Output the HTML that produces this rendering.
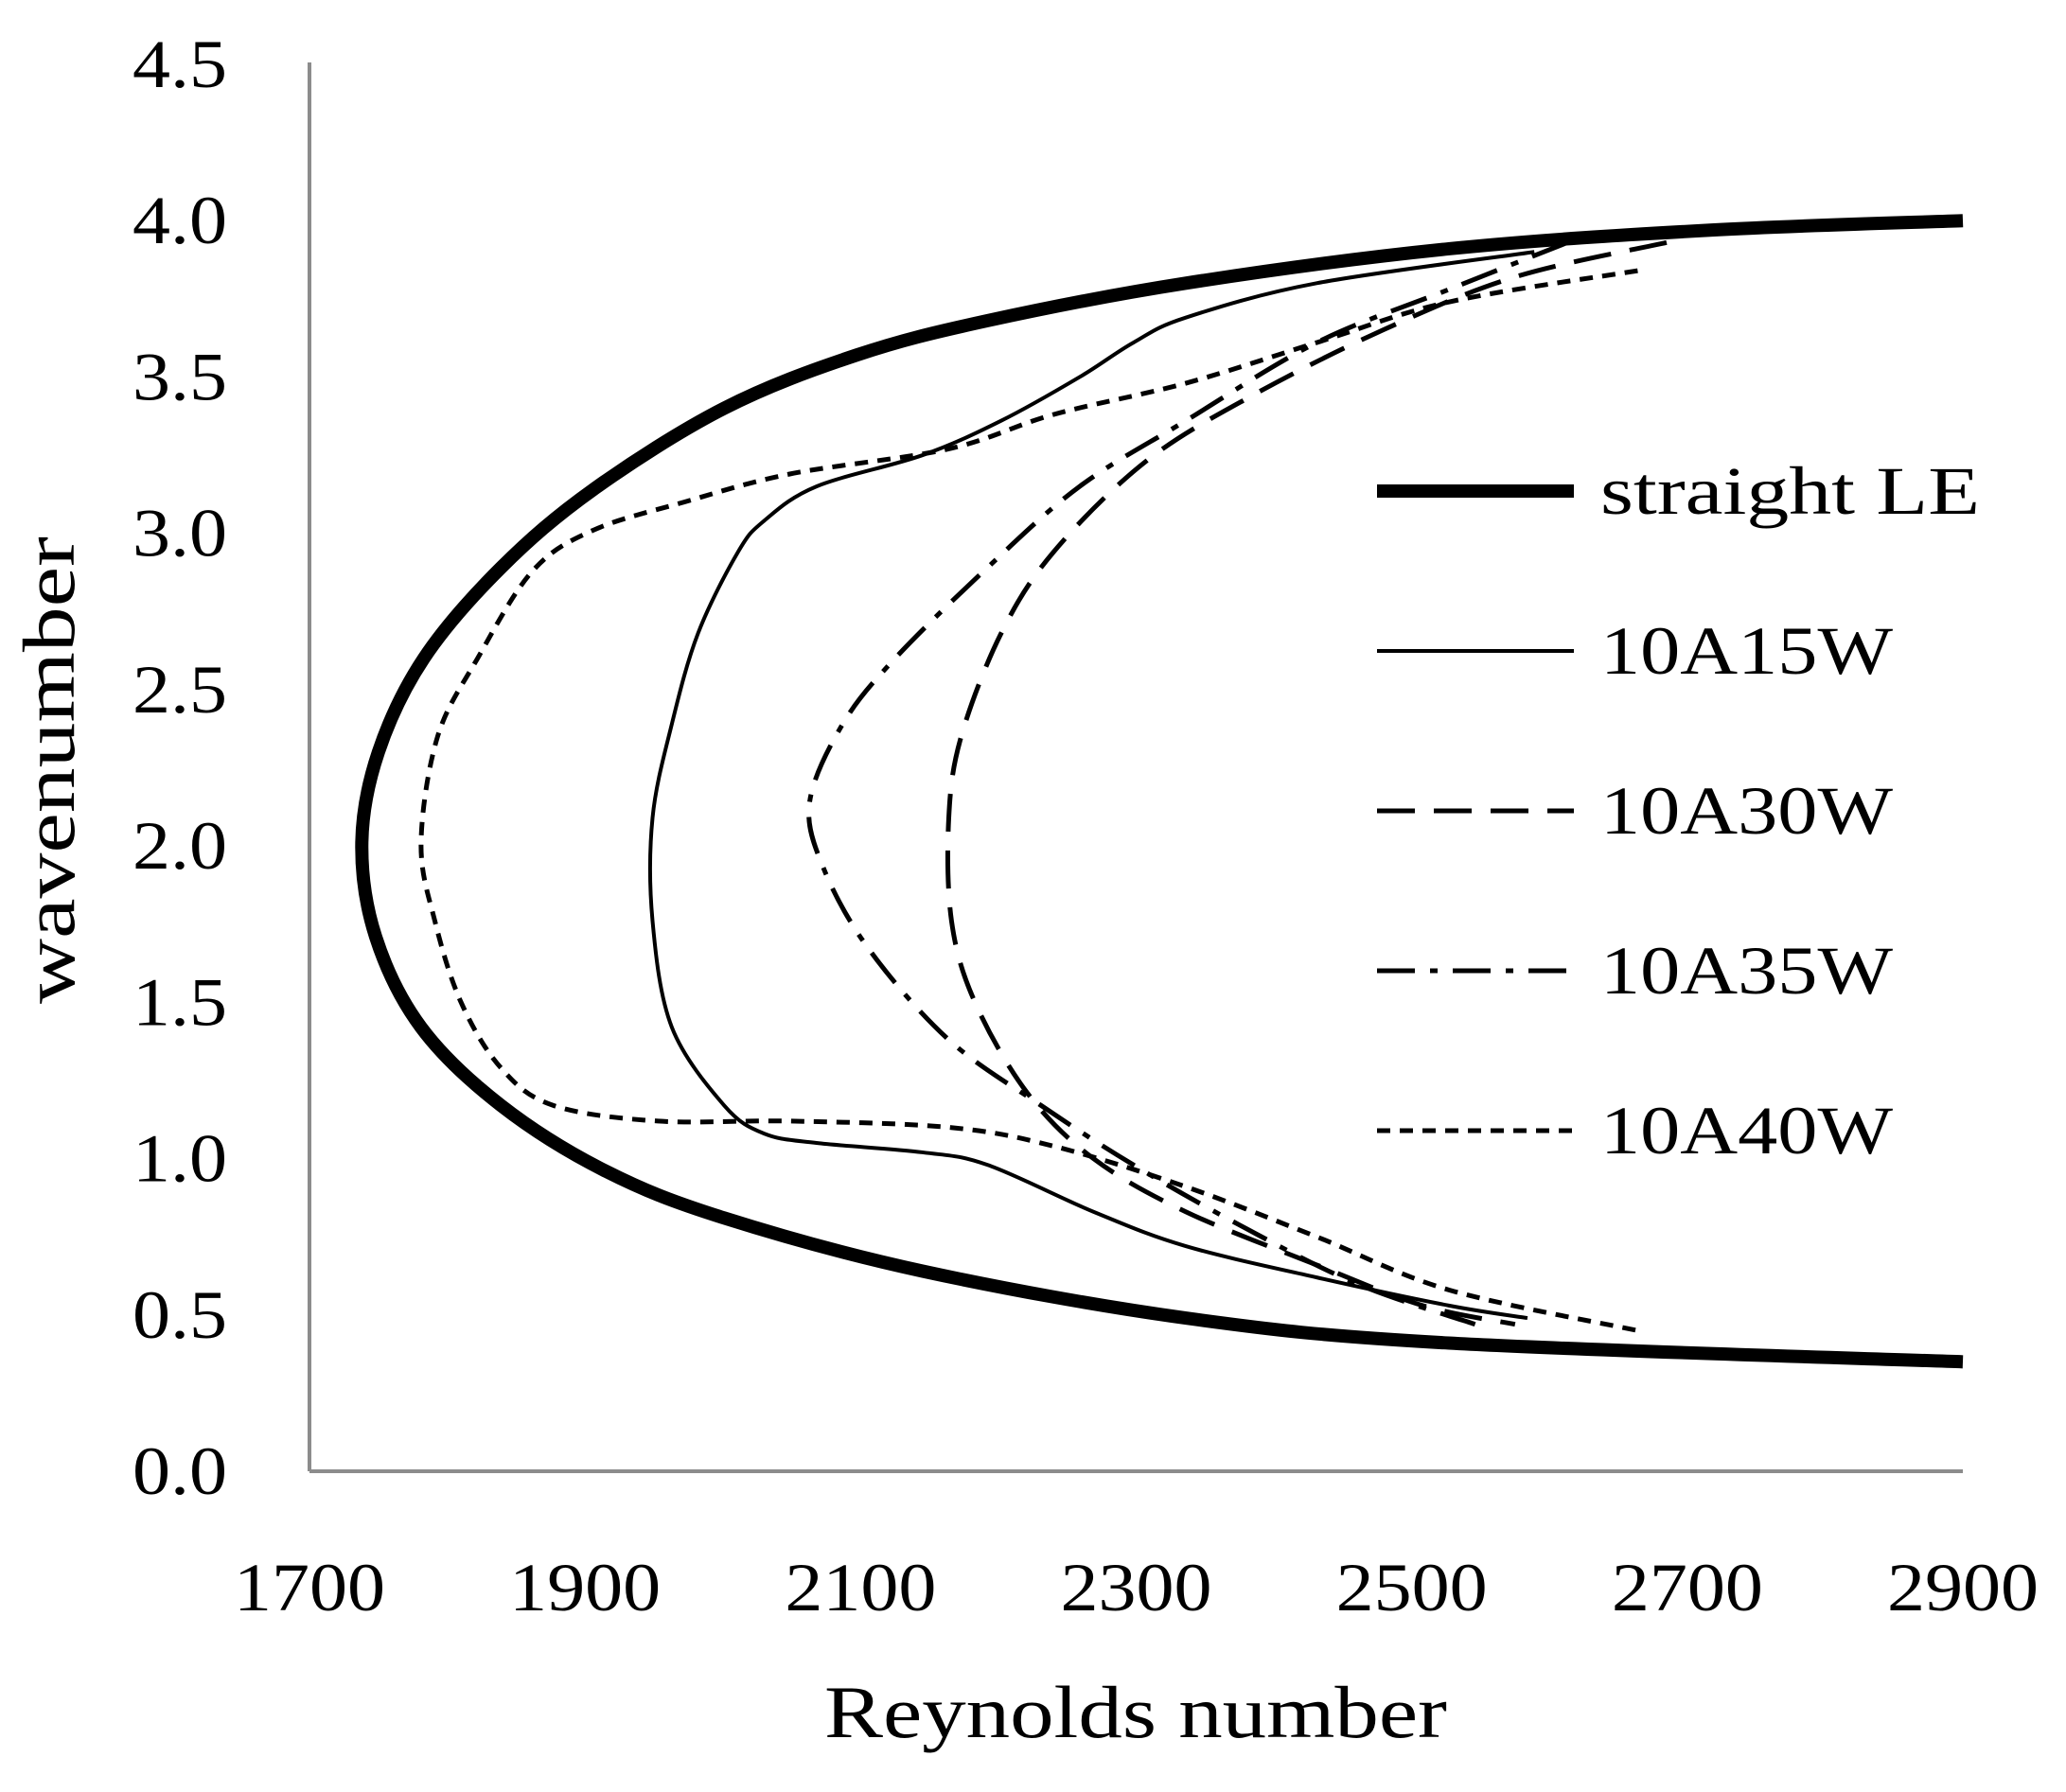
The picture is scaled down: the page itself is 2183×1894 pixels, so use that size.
<!DOCTYPE html>
<html><head><meta charset="utf-8"><style>
html,body{margin:0;padding:0;background:#fff}
svg text{font-family:"Liberation Serif",serif;fill:#000}
</style></head><body>
<svg width="2183" height="1889" viewBox="0 0 2183 1889" xmlns="http://www.w3.org/2000/svg">
<g id="axes"></g><g id="series"></g><g id="legend"></g>
<text x="1200" y="1836" font-size="78" text-anchor="middle" textLength="658" lengthAdjust="spacingAndGlyphs">Reynolds number</text>
<text transform="translate(78,814) rotate(-90)" font-size="78" text-anchor="middle" textLength="494" lengthAdjust="spacingAndGlyphs">wavenumber</text>
</svg>
<script>
const xTicks=[1700,1900,2100,2300,2500,2700,2900];
const yTicks=[0,0.5,1,1.5,2,2.5,3,3.5,4,4.5];
const seriesNames=["straight LE","10A15W","10A30W","10A35W","10A40W"];
const straightLE=[[2900,4.0],[2718,3.97],[2527,3.91],[2336,3.80],[2192,3.68],[2097,3.57],[2001,3.40],[1906,3.14],[1839,2.89],[1783,2.60],[1750,2.30],[1738,2.01],[1748,1.71],[1781,1.42],[1839,1.17],[1915,0.96],[2001,0.81],[2145,0.64],[2336,0.49],[2527,0.41],[2900,0.35]];
const s15W=[[2589,3.90],[2431,3.80],[2336,3.69],[2298,3.61],[2259,3.50],[2202,3.36],[2145,3.25],[2068,3.15],[2030,3.04],[2011,2.94],[1982,2.68],[1963,2.39],[1949,2.09],[1949,1.76],[1963,1.42],[2001,1.17],[2030,1.08],[2068,1.05],[2145,1.02],[2192,0.98],[2269,0.83],[2336,0.72],[2431,0.62],[2527,0.53],[2584,0.49]];
const s30W=[[2685,3.93],[2575,3.82],[2479,3.65],[2384,3.44],[2307,3.23],[2240,2.94],[2202,2.68],[2173,2.35],[2164,2.09],[2166,1.76],[2183,1.50],[2221,1.21],[2269,1.00],[2336,0.83],[2431,0.66],[2508,0.53],[2575,0.47]];
const s35W=[[2613,3.93],[2527,3.78],[2431,3.61],[2336,3.36],[2259,3.15],[2192,2.89],[2125,2.60],[2087,2.39],[2063,2.14],[2073,1.93],[2106,1.67],[2164,1.38],[2231,1.17],[2298,0.98],[2374,0.79],[2460,0.60],[2546,0.47]];
const s40W=[[2664,3.84],[2527,3.74],[2431,3.61],[2336,3.48],[2240,3.38],[2164,3.27],[2049,3.19],[1972,3.10],[1906,3.01],[1862,2.88],[1822,2.60],[1793,2.35],[1781,2.01],[1791,1.76],[1810,1.50],[1839,1.29],[1877,1.17],[1953,1.12],[2049,1.12],[2164,1.10],[2240,1.04],[2336,0.91],[2431,0.75],[2527,0.58],[2664,0.45]];

const NS="http://www.w3.org/2000/svg";
const X0=327,X1=2074,Y0=1555,Y1=68;
function sx(v){return X0+(v-1700)/(2900-1700)*(X1-X0);}
function sy(v){return Y0-(v/4.5)*(Y0-Y1);}
function mk(tag,attrs,parent){const e=document.createElementNS(NS,tag);for(const k in attrs)e.setAttribute(k,attrs[k]);parent.appendChild(e);return e;}
const axes=document.getElementById('axes');
let yl=mk('line',{x1:X0,y1:Y1-2,x2:X0,y2:Y0,stroke:'#8c8c8c','stroke-width':4},axes);


let xl=mk('line',{x1:X0,y1:Y0,x2:X1,y2:Y0,stroke:'#8c8c8c','stroke-width':4},axes);


xTicks.forEach(t=>{const e=mk('text',{x:sx(t),y:1702,'font-size':72,'text-anchor':'middle',textLength:160,lengthAdjust:'spacingAndGlyphs'},axes);e.textContent=t;

});
yTicks.forEach(t=>{const e=mk('text',{x:240,y:sy(t)+24,'font-size':72,'text-anchor':'end',textLength:100,lengthAdjust:'spacingAndGlyphs'},axes);e.textContent=t.toFixed(1);

});
function pathD(pts){const p=pts.map(d=>[sx(d[0]),sy(d[1])]);let s='M'+p[0][0]+','+p[0][1];
for(let i=0;i<p.length-1;i++){const a=p[i-1]||p[i],b=p[i],c=p[i+1],d=p[i+2]||c;
s+=' C'+(b[0]+(c[0]-a[0])/6)+','+(b[1]+(c[1]-a[1])/6)+' '+(c[0]-(d[0]-b[0])/6)+','+(c[1]-(d[1]-b[1])/6)+' '+c[0]+','+c[1];}return s;}
const styles=[{w:14,d:''},{w:4,d:''},{w:5,d:'40 20'},{w:5,d:'40 16 8 16'},{w:5,d:'14 10'}];
const data=[straightLE,s15W,s30W,s35W,s40W];
const widths=[401,309,309,309,309];
const sg=document.getElementById('series'),lg=document.getElementById('legend');
const ids=['series-straight-le','series-10a15w','series-10a30w','series-10a35w','series-10a40w'];
data.forEach((pts,i)=>{const p=mk('path',{d:pathD(pts),fill:'none',stroke:'#000','stroke-width':styles[i].w,'stroke-dasharray':styles[i].d},sg);


const ly=519+i*169;
const l=mk('line',{x1:1455,y1:ly,x2:1663,y2:ly,stroke:'#000','stroke-width':styles[i].w,'stroke-dasharray':styles[i].d},lg);


const t=mk('text',{x:1691,y:ly+24,'font-size':72,textLength:widths[i],lengthAdjust:'spacingAndGlyphs'},lg);t.textContent=seriesNames[i];

});
</script>
</body></html>
